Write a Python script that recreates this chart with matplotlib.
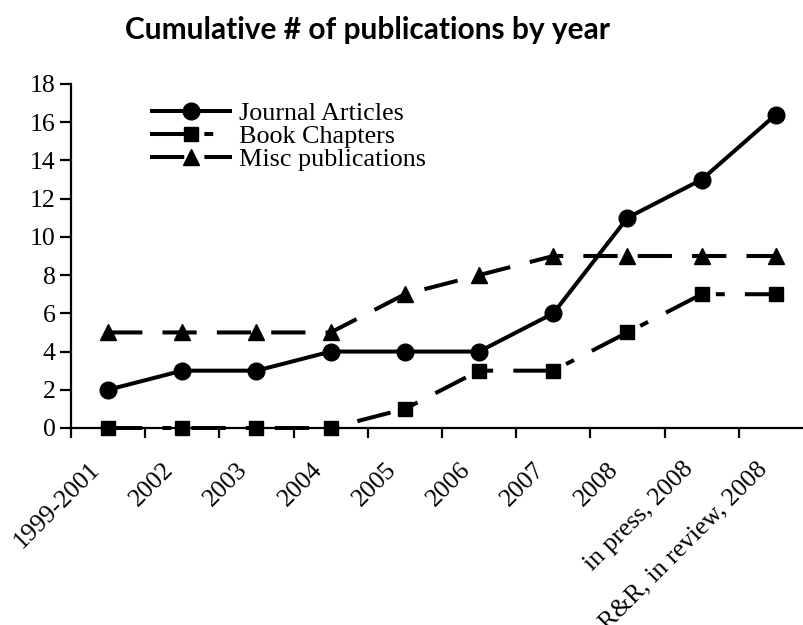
import matplotlib
matplotlib.use("Agg")
import matplotlib.pyplot as plt
import matplotlib.transforms as mtransforms

categories = ["1999-2001", "2002", "2003", "2004", "2005", "2006", "2007",
              "2008", "in press, 2008", "R&R, in review, 2008"]
journal_articles = [2, 3, 3, 4, 4, 4, 6, 11, 13, 16.4]
book_chapters = [0, 0, 0, 0, 1, 3, 3, 5, 7, 7]
misc_publications = [5, 5, 5, 5, 7, 8, 9, 9, 9, 9]
y_ticks = [0, 2, 4, 6, 8, 10, 12, 14, 16, 18]

plt.rcParams["font.family"] = ["Liberation Serif", "DejaVu Serif"]

W, H = 804, 625
fig = plt.figure(figsize=(W / 100, H / 100), dpi=100)
ax = fig.add_axes([71 / W, (H - 428) / H, (813 - 71) / W, (428 - 84) / H])

x = [i + 0.5 for i in range(len(categories))]
lw = 2.9
ax.plot(x, journal_articles, color="black", lw=lw, marker="o", ms=12,
        solid_capstyle="butt", label="Journal Articles", clip_on=False)
ax.plot(x, book_chapters, color="black", lw=lw, marker="s", ms=10,
        dashes=(8.5, 5.0, 2.2, 5.0), dash_capstyle="butt",
        label="Book Chapters", clip_on=False)
ax.plot(x, misc_publications, color="black", lw=lw, marker="^", ms=11,
        dashes=(8.5, 5.0), dash_capstyle="butt",
        label="Misc publications", clip_on=False)

ax.set_xlim(0, len(categories))
ax.set_ylim(0, 18)
ax.set_yticks(y_ticks)
ax.set_yticklabels([str(t) for t in y_ticks], fontsize=18.5)
ax.set_xticks(range(len(categories)))
ax.set_xticklabels([])
ax.tick_params(axis="y", direction="out", length=8, width=1.6, pad=3)
ax.tick_params(axis="x", direction="out", length=7, width=1.6)
for s in ("top", "right"):
    ax.spines[s].set_visible(False)
for s in ("left", "bottom"):
    ax.spines[s].set_linewidth(1.6)

# rotated category labels, hanging below each category centre
trans = mtransforms.blended_transform_factory(ax.transData, ax.transAxes)
offset = mtransforms.ScaledTranslation(-12 / 100, -38 / 100, fig.dpi_scale_trans)
for xi, lab in zip(x, categories):
    ax.text(xi, 0, lab, transform=trans + offset, rotation=45,
            rotation_mode="anchor", ha="right", va="center", fontsize=18.5)

ax.legend(loc="upper left",
          bbox_to_anchor=(150 / W, 1 - 102 / H), bbox_transform=fig.transFigure,
          frameon=False, prop={"size": 18.8},
          handlelength=3.15, handletextpad=0.25, labelspacing=-0.02,
          borderaxespad=0, borderpad=0)

fig.text(368 / W, 1 - 30 / H, "Cumulative # of publications by year",
         ha="center", va="center", fontfamily="Lato", fontweight="bold",
         fontsize=21.5)

fig.savefig("out.png", dpi=100)
